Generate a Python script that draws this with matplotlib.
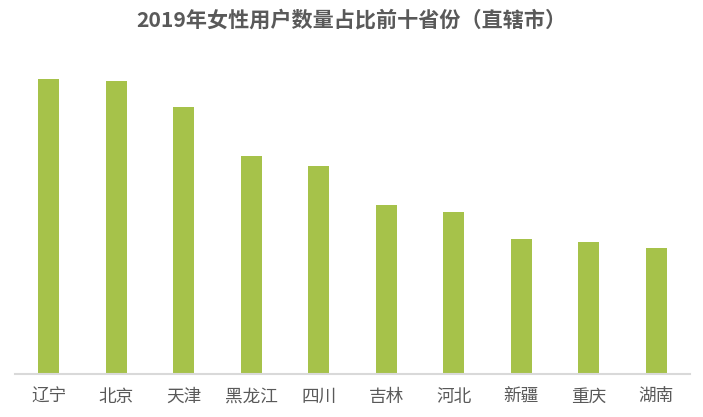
import matplotlib
matplotlib.use("Agg")
from matplotlib import pyplot as plt

plt.rcParams['font.family'] = ['Noto Sans CJK SC', 'DejaVu Sans']

# 数据（无坐标轴刻度，按柱高估计的相对值）
provinces = ['辽宁', '北京', '天津', '黑龙江', '四川', '吉林', '河北', '新疆', '重庆', '湖南']
values = [295, 293, 267, 218, 208, 169, 162, 135, 132, 126]

fig = plt.figure(figsize=(7.03, 4.17), dpi=100)
ax = fig.add_axes([15/703, 1 - 374/417, (690 - 15)/703, (374 - 40)/417])

ax.bar(range(len(provinces)), values, width=0.31, color='#A6C24A', zorder=2)

ax.set_xlim(-0.5, len(provinces) - 0.5)
ax.set_ylim(0, 334)
ax.set_yticks([])
ax.set_xticks(range(len(provinces)))
ax.set_xticklabels(provinces, fontsize=12.7, color='#595959')
ax.tick_params(axis='x', length=0, pad=10)

for s in ['top', 'right', 'left']:
    ax.spines[s].set_visible(False)
ax.spines['bottom'].set_color('#D9D9D9')
ax.spines['bottom'].set_linewidth(1.5)

fig.text(0.5, 1 - 20/417, '2019年女性用户数量占比前十省份（直辖市）', ha='center', va='center',
         fontsize=15.2, fontweight='bold', color='#595959')

fig.savefig('out.png', dpi=100)
